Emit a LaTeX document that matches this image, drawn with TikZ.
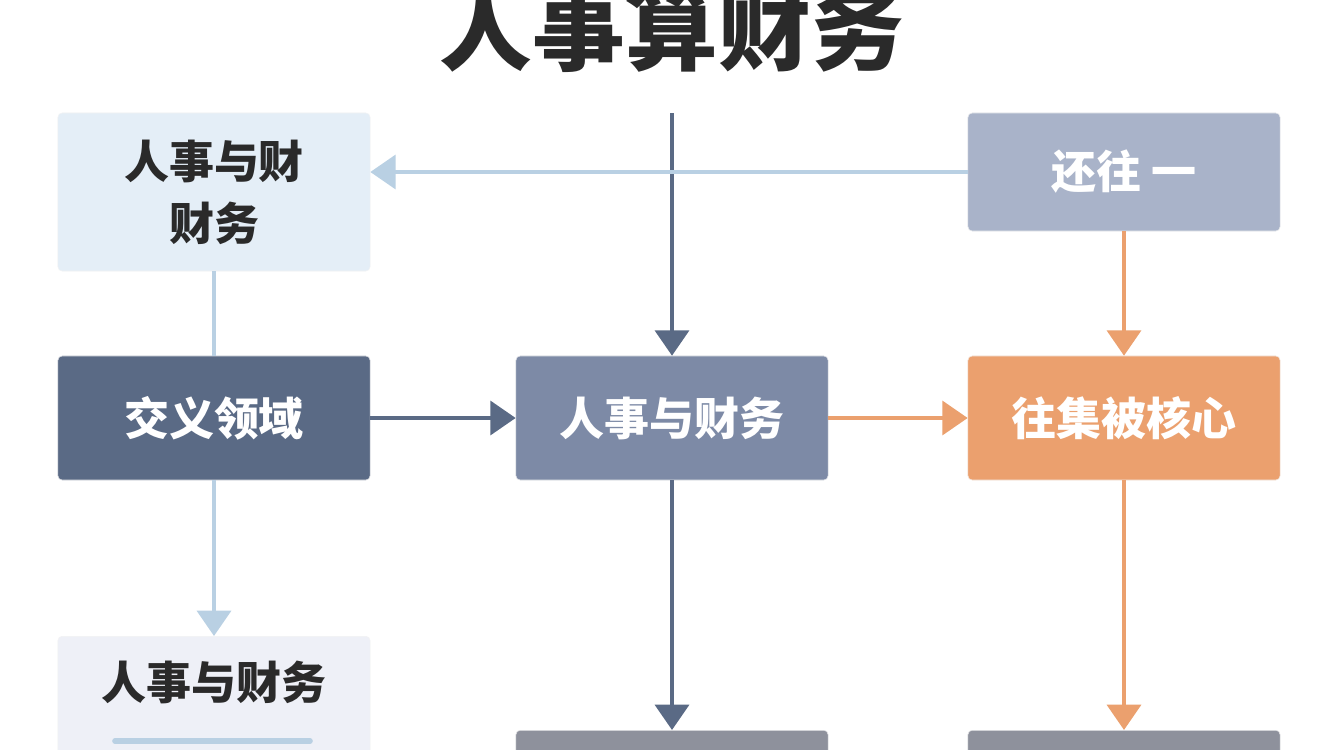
\documentclass[tikz,border=0pt]{standalone}
\usepackage{fontspec}
\newfontfamily\cjk{Noto Sans CJK SC}
\usetikzlibrary{positioning,arrows.meta}
\definecolor{paleblue}{HTML}{E4EEF7}
\definecolor{paleline}{HTML}{B9D0E3}
\definecolor{slate}{HTML}{5A6A85}
\definecolor{midslate}{HTML}{7D8AA6}
\definecolor{greyblue}{HTML}{A9B3C9}
\definecolor{peach}{HTML}{EBA06E}
\definecolor{palegrey}{HTML}{EEF0F7}
\definecolor{stone}{HTML}{8E919C}
\definecolor{ink}{HTML}{2A2A2A}
\tikzset{
  box/.style={draw=#1!80!black!20, fill=#1, rounded corners=3pt, minimum width=7.8cm, minimum height=3.1cm,
    align=center, font=\cjk\bfseries\fontsize{32}{44}\selectfont, text=white},
  flow/.style={line width=3pt, draw=#1, -{Triangle[length=18pt,width=24pt]}},
  link/.style={line width=3pt, draw=#1}
}
\begin{document}
\begin{tikzpicture}[x=0.025cm, y=-0.025cm]
  \useasboundingbox (0,0) rectangle (1344,750);
  \fill[white!96!blue!2] (0,0) rectangle (1344,750);
  \node[font=\cjk\bfseries\fontsize{66}{70}\selectfont, text=ink] (title) at (672,28) {人事算财务};

  \node[box=paleblue, text=ink, minimum height=3.95cm] (hrfin) at (214,192) {人事与财\\财务};
  \node[box=greyblue, minimum height=2.95cm] (back) at (1124,172) {还往 一};
  \node[box=slate] (cross) at (214,418) {交义领域};
  \node[box=midslate] (core) at (672,418) {人事与财务};
  \node[box=peach] (hub) at (1124,418) {往集被核心};
  \node[box=palegrey, text=ink, minimum height=3.6cm, anchor=north, text depth=1.4cm] (note) at (214,636) {人事与财务};
  \node[box=stone, anchor=north] (outa) at (672,730) {};
  \node[box=stone, anchor=north] (outb) at (1124,730) {};
  \draw[line width=4pt, draw=paleline, line cap=round] (115,741) -- (310,741);

  \coordinate (top) at (672,113);
  \draw[flow=slate] (top) -- (core.north);
  \draw[flow=paleline] (back.west) -- (hrfin.east |- back.west);
  \draw[link=paleline] (hrfin.south) -- (cross.north);
  \draw[flow=slate] (cross.east) -- (core.west);
  \draw[flow=peach] (core.east) -- (hub.west);
  \draw[flow=peach] (back.south) -- (hub.north);
  \draw[flow=paleline] (cross.south) -- (note.north);
  \draw[flow=slate] (core.south) -- (outa.north);
  \draw[flow=peach] (hub.south) -- (outb.north);
\end{tikzpicture}
\end{document}
